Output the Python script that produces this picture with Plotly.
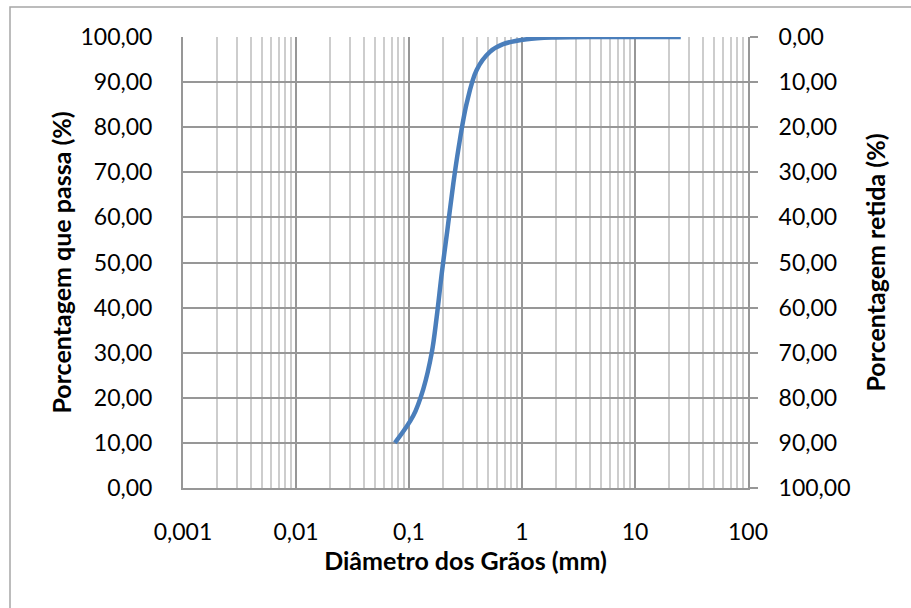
import plotly.graph_objects as go

# Data
diametro_mm = [0.075, 0.109, 0.134, 0.159, 0.176, 0.195, 0.218, 0.247, 0.273,
               0.324, 0.397, 0.52, 0.68, 1.1, 2.0, 4.8, 9.5, 25.4]
passa_pct = [10.0, 16.0, 22.0, 30.0, 38.0, 47.6, 57.0, 67.6, 75.0,
             85.3, 92.7, 96.7, 98.4, 99.5, 99.9, 100.0, 100.0, 100.0]

x_tickvals = [0.001, 0.01, 0.1, 1, 10, 100]
x_ticktext = ["0,001", "0,01", "0,1", "1", "10", "100"]
x_minor = [m * d for d in [0.001, 0.01, 0.1, 1, 10] for m in range(2, 10)]
y_tickvals = [0, 10, 20, 30, 40, 50, 60, 70, 80, 90, 100]

FONT = "Lato"
GRID_MAJOR = "#979797"
GRID_MINOR = "#cdcdcd"
GW = 2

fig = go.Figure()
fig.add_trace(go.Scatter(
    x=diametro_mm, y=passa_pct, mode="lines",
    line=dict(color="#4A7EBB", width=4.5, shape="spline", smoothing=1.0),
    cliponaxis=False, showlegend=False, hoverinfo="x+y"))
# invisible trace to activate right axis
fig.add_trace(go.Scatter(x=[diametro_mm[0]], y=[100 - passa_pct[0]], yaxis="y2",
                         mode="markers", marker=dict(opacity=0), showlegend=False,
                         hoverinfo="skip"))

L, R, T, B = 183, 163, 37, 120
W, H = 911, 608
pw, ph = W - L - R, H - T - B

fig.update_layout(
    width=W, height=H,
    margin=dict(l=L, r=R, t=T, b=B, pad=0),
    paper_bgcolor="white", plot_bgcolor="white",
    separators=",.",
    font=dict(family=FONT, size=23, color="#000000"),
    xaxis=dict(
        type="log", range=[-3, 2],
        tickmode="array", tickvals=x_tickvals, ticktext=x_ticktext,
        showgrid=True, gridcolor=GRID_MAJOR, gridwidth=GW,
        minor=dict(tickmode="array", tickvals=x_minor, showgrid=True,
                   gridcolor=GRID_MINOR, gridwidth=GW, ticks=""),
        showline=True, linecolor=GRID_MAJOR, linewidth=GW,
        ticks="", ticklabelstandoff=22,
        tickfont=dict(family=FONT, size=23),
        title=dict(text="<b>Diâmetro dos Grãos (mm)</b>",
                   font=dict(family=FONT, size=25), standoff=7),
        zeroline=False, fixedrange=True,
    ),
    yaxis=dict(
        range=[0, 100], tickmode="array", tickvals=y_tickvals,
        tickformat=".2f",
        showgrid=True, gridcolor=GRID_MAJOR, gridwidth=GW,
        showline=True, linecolor=GRID_MAJOR, linewidth=GW,
        ticks="", ticklabelstandoff=24,
        tickfont=dict(family=FONT, size=23),
        title=dict(text="<b>Porcentagem que passa (%)</b>",
                   font=dict(family=FONT, size=25), standoff=2),
        zeroline=False, fixedrange=True,
    ),
    yaxis2=dict(
        overlaying="y", side="right", range=[100, 0],
        tickmode="array", tickvals=y_tickvals, tickformat=".2f",
        showgrid=False, showline=True, linecolor=GRID_MAJOR, linewidth=GW,
        ticks="outside", ticklen=8, tickwidth=GW, tickcolor=GRID_MAJOR,
        ticklabelstandoff=16,
        tickfont=dict(family=FONT, size=23),
        title=dict(text="<b>Porcentagem retida (%)</b>",
                   font=dict(family=FONT, size=25), standoff=18),
        zeroline=False, fixedrange=True,
    ),
    shapes=[dict(type="rect", xref="paper", yref="paper",
                 x0=(10 - L) / pw, x1=1.6, y0=-0.6, y1=(H - B - 7) / ph,
                 line=dict(color="#a6a6a6", width=1.5), fillcolor="rgba(0,0,0,0)",
                 layer="below")],
)

fig.write_html("out.html")
